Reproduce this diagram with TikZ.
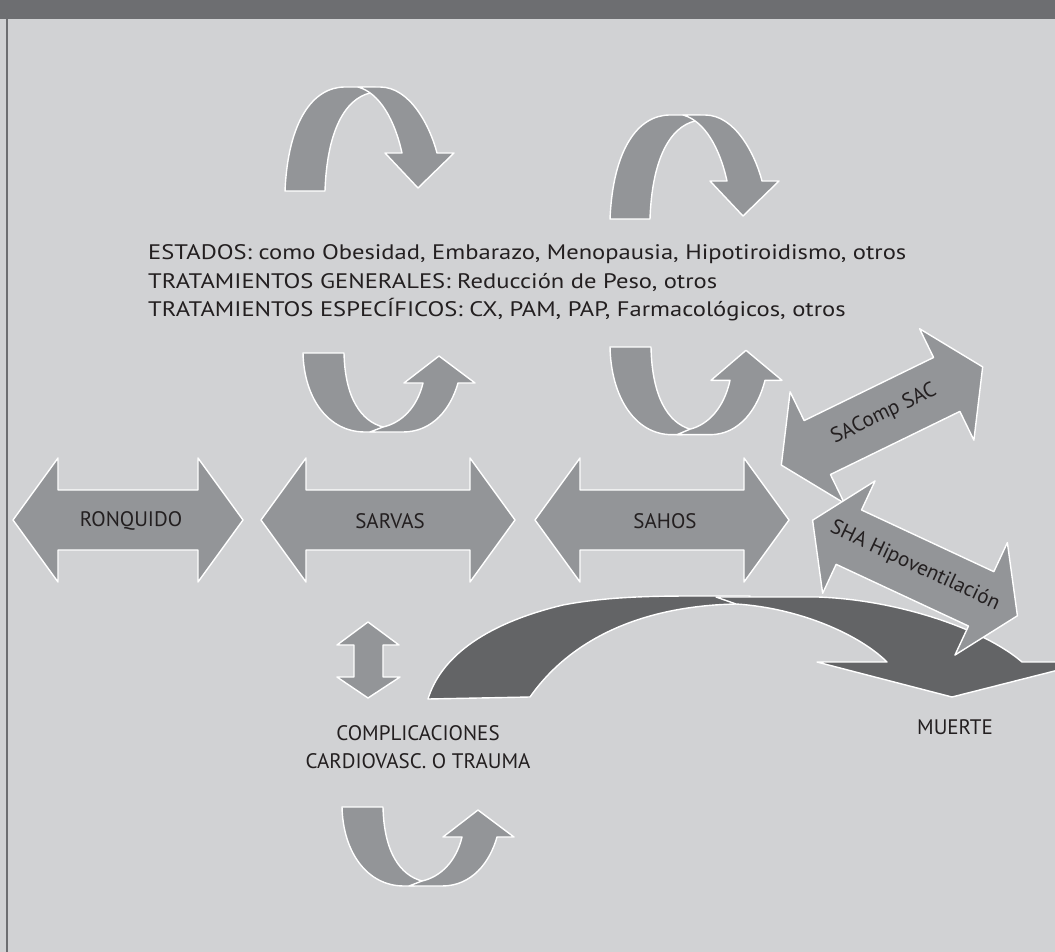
\documentclass[tikz,border=0pt]{standalone}
\usepackage{fontspec}
\setmainfont{PT Sans}
\newfontfamily\widefont[FakeStretch=1.17]{PT Sans}
\definecolor{bargray}{HTML}{6D6E71}
\definecolor{paper}{HTML}{D1D2D4}
\definecolor{arrowgray}{HTML}{939598}
\definecolor{deathgray}{HTML}{636466}
\definecolor{ink}{HTML}{231F20}
\begin{document}
\begin{tikzpicture}[x=1pt,y=-1pt,line join=round,line cap=round]
\tikzset{every node/.style={text=ink,font=\fontsize{21}{28.5}\selectfont,inner sep=0pt},
  arrowbox/.style={fill=arrowgray,draw=white,line width=1.4pt},
  pics/dblarrow/.style 2 args={code={
    \draw[arrowbox] ({-#1},0) -- ({-#1+#2},-62) -- ({-#1+#2},-30) -- ({#1-#2},-30) -- ({#1-#2},-62) -- (#1,0)
      -- ({#1-#2},62) -- ({#1-#2},30) -- ({-#1+#2},30) -- ({-#1+#2},62) -- cycle;}},
  pics/archdown/.style={code={
    \draw[arrowbox] (0,0) .. controls (3,-70) and (28,-104) .. (60,-104) -- (90,-104) -- (85,-98)
      .. controls (60,-92) and (42,-60) .. (40,0) -- cycle;
    \draw[arrowbox] (73,-104) -- (95,-104) .. controls (125,-104) and (145,-65) .. (152,-38) -- (169,-38)
      -- (133,-3) -- (100,-38) -- (117,-38) .. controls (110,-70) and (95,-98) .. (73,-104) -- cycle;}},
  pics/uturn/.style={code={
    \draw[arrowbox] (0,0) .. controls (1,45) and (25,79) .. (62,79) -- (72,79) -- (80,74)
      .. controls (58,68) and (42,45) .. (41,0) -- cycle;
    \draw[arrowbox] (67,79) -- (100,79) .. controls (130,79) and (148,55) .. (155,30) -- (172,30)
      -- (136,3) -- (101,30) -- (120,30) .. controls (114,55) and (98,70) .. (80,74) -- cycle;}}}
\useasboundingbox (0,0) rectangle (1055,952);
\fill[paper] (0,0) rectangle (1055,952);
\fill[bargray] (0,0) rectangle (1055,19);
\fill[bargray] (5.5,19) rectangle (7.5,952);
\begin{scope}
\clip (8,19) rectangle (1055,952);
% curved arrow towards death
\draw[fill=deathgray,draw=white,line width=1.4pt] (428,699) .. controls (440,660) and (480,625) .. (563,605)
  .. controls (610,596) and (660,596) .. (700,596) -- (750,596) -- (745,604) -- (736,604)
  .. controls (640,606) and (570,640) .. (530,697) -- cycle;
\draw[fill=deathgray,draw=white,line width=1.4pt] (716,597) -- (818,597) .. controls (900,600) and (985,630) .. (1022,662)
  -- (1090,662) -- (952,697) -- (817,662) -- (887,662) .. controls (860,635) and (800,608) .. (736,604) -- cycle;
\end{scope}
\pic at (128,520) {dblarrow={115}{45}};
\pic at (388,520) {dblarrow={127}{45}};
\pic at (662,520) {dblarrow={127}{45}};
\pic[rotate=26] at (882,416) {dblarrow={112}{40}};
\pic[rotate=-25] at (915,568) {dblarrow={113}{40}};
\draw[arrowbox] (368,622) -- (399,645) -- (383,645) -- (383,677) -- (400,677) -- (368,698)
  -- (337,677) -- (354,677) -- (354,645) -- (337,645) -- cycle;
\foreach \dx/\dy in {285/191,610/219}
  \pic at (\dx,\dy) {archdown};
\pic at (303,353) {uturn};
\pic[yscale=1.11] at (610,347) {uturn};
\pic at (342,807) {uturn};
\node[anchor=west,align=left,font=\widefont\fontsize{21}{28.5}\selectfont] (estados) at (148,283)
  {ESTADOS: como Obesidad, Embarazo, Menopausia, Hipotiroidismo, otros\\
  TRATAMIENTOS GENERALES: Reducción de Peso, otros\\
  TRATAMIENTOS ESPECÍFICOS: CX, PAM, PAP, Farmacológicos, otros};
\node (ronquido) at (131,521) {RONQUIDO};
\node (sarvas) at (390,521) {SARVAS};
\node (sahos) at (665,521) {SAHOS};
\node[rotate=26] (sacomp) at (884,414) {SAComp SAC};
\node[rotate=-25] (sha) at (915,566) {SHA Hipoventilación};
\node[align=center] (complic) at (418,747) {COMPLICACIONES\\CARDIOVASC. O TRAUMA};
\node (muerte) at (955,727) {MUERTE};
\end{tikzpicture}
\end{document}
